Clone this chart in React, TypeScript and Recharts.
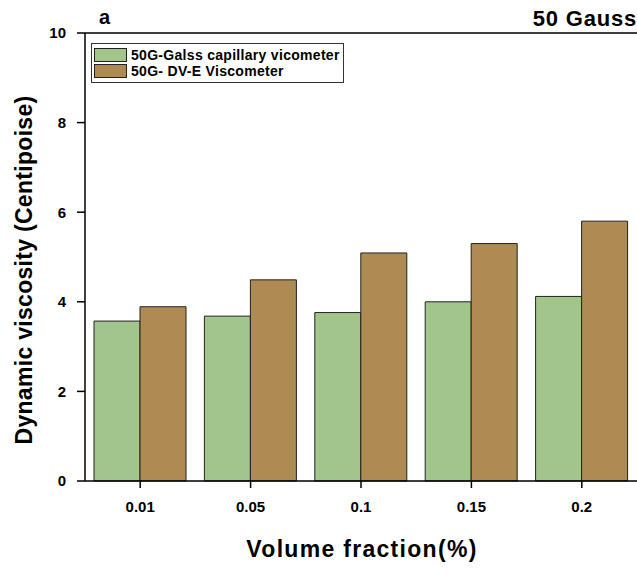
import {
  BarChart,
  Bar,
  XAxis,
  YAxis,
  ReferenceLine,
} from "recharts";

const fractions = ["0.01", "0.05", "0.1", "0.15", "0.2"];
const capillary = [3.57, 3.68, 3.76, 4.0, 4.12];
const dvE = [3.89, 4.49, 5.09, 5.3, 5.8];
const yTicks = [0, 2, 4, 6, 8, 10];

const GREEN = "#a2c58c";
const BROWN = "#ad8b53";
const FONT = "'Liberation Sans', Arial, sans-serif";

const data = fractions.map((f, i) => ({
  name: f,
  capillary: capillary[i],
  dvE: dvE[i],
}));

const legendItems = [
  { label: "50G-Galss capillary vicometer", color: GREEN },
  { label: "50G- DV-E Viscometer", color: BROWN },
];

const App = () => {
  return (
    <div
      style={{
        position: "absolute",
        left: 0,
        top: 0,
        width: 637,
        height: 573,
        background: "#fff",
      }}
    >
      <BarChart
        width={637}
        height={573}
        data={data}
        margin={{ top: 33, right: 0, bottom: 62, left: 0 }}
        barGap={0}
        barCategoryGap={9}
      >
        <XAxis
          dataKey="name"
          height={30}
          axisLine={{ stroke: "#000", strokeWidth: 1.5 }}
          tickLine={{ stroke: "#000", strokeWidth: 1.5 }}
          tickSize={7}
          tickMargin={13}
          tick={{ fill: "#000", fontFamily: FONT, fontWeight: "bold", fontSize: 15 }}
        />
        <YAxis
          width={85}
          domain={[0, 10]}
          ticks={yTicks}
          interval={0}
          axisLine={{ stroke: "#000", strokeWidth: 1.5 }}
          tickLine={{ stroke: "#000", strokeWidth: 1.5 }}
          tickSize={8}
          tickMargin={11}
          tick={{ fill: "#000", fontFamily: FONT, fontWeight: "bold", fontSize: 15 }}
        />
        <ReferenceLine y={10} stroke="#000" strokeWidth={1.5} />
        <Bar
          dataKey="capillary"
          fill={GREEN}
          stroke="#222"
          strokeWidth={1}
          isAnimationActive={false}
        />
        <Bar
          dataKey="dvE"
          fill={BROWN}
          stroke="#222"
          strokeWidth={1}
          isAnimationActive={false}
        />
      </BarChart>
      <div
        style={{
          position: "absolute",
          left: 91,
          top: 43,
          width: 253,
          height: 40,
          boxSizing: "border-box",
          border: "1px solid #333",
          background: "#fff",
          padding: "3px 0 0 2px",
          fontFamily: FONT,
          fontWeight: "bold",
          fontSize: 14,
          letterSpacing: 0.3,
          lineHeight: "16px",
          color: "#000",
        }}
      >
        {legendItems.map((it) => (
          <div key={it.label} style={{ display: "flex", alignItems: "center" }}>
            <span
              style={{
                display: "inline-block",
                width: 33,
                height: 14,
                boxSizing: "border-box",
                background: it.color,
                border: "1px solid #222",
                marginRight: 4,
              }}
            />
            {it.label}
          </div>
        ))}
      </div>
      <div
        style={{
          position: "absolute",
          left: 0,
          top: 270,
          width: 0,
          height: 0,
        }}
      >
        <div
          style={{
            position: "absolute",
            left: 24,
            top: 0,
            transform: "translate(-50%, -50%) rotate(-90deg)",
            whiteSpace: "nowrap",
            fontFamily: FONT,
            fontWeight: "bold",
            fontSize: 23,
            letterSpacing: 0.3,
            color: "#000",
          }}
        >
          Dynamic viscosity (Centipoise)
        </div>
      </div>
      <div
        style={{
          position: "absolute",
          left: 362,
          top: 549,
          transform: "translate(-50%, -50%)",
          whiteSpace: "nowrap",
          fontFamily: FONT,
          fontWeight: "bold",
          fontSize: 23,
          letterSpacing: 1.3,
          color: "#000",
        }}
      >
        Volume fraction(%)
      </div>
      <div
        style={{
          position: "absolute",
          left: 99,
          top: 6,
          fontFamily: FONT,
          fontWeight: "bold",
          fontSize: 20,
          color: "#000",
        }}
      >
        a
      </div>
      <div
        style={{
          position: "absolute",
          right: 0,
          top: 6,
          fontFamily: FONT,
          fontWeight: "bold",
          fontSize: 22,
          letterSpacing: 0.8,
          color: "#000",
        }}
      >
        50 Gauss
      </div>
    </div>
  );
};

export default App;
